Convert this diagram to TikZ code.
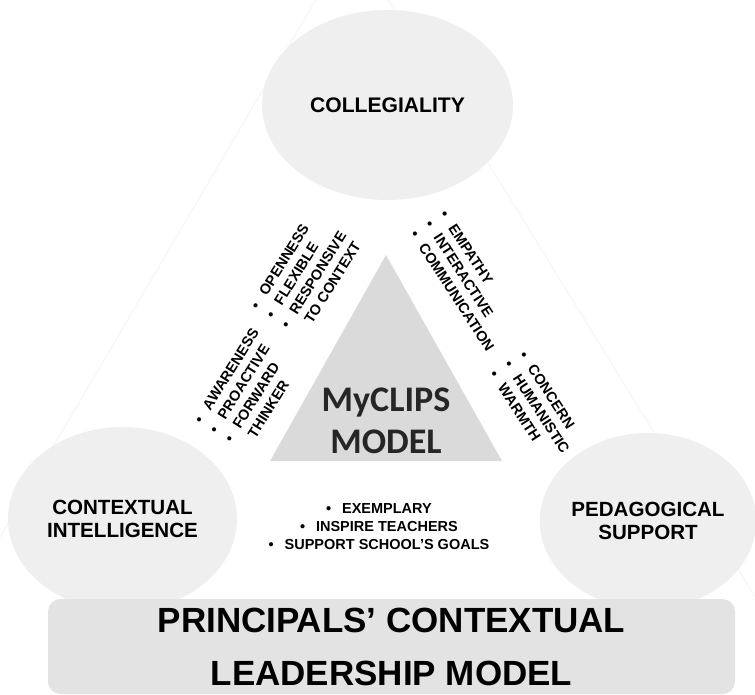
\documentclass[tikz,border=0pt]{standalone}
\usepackage{fontspec}
\setmainfont{Liberation Sans}
\newfontfamily\calibrifont{Carlito}
\usetikzlibrary{shapes.geometric}
\definecolor{ovalgray}{HTML}{EFEFEF}
\definecolor{coregray}{HTML}{DADADA}
\definecolor{bargray}{HTML}{E3E3E3}
\definecolor{edgegray}{HTML}{F7F7F7}
\newcommand{\bul}{\makebox[1.1em][l]{\textbullet}}
\newcommand{\nobul}{\hspace*{1.1em}}

\begin{document}
\begin{tikzpicture}
            \useasboundingbox (0,0) rectangle (15.1,13.88);
            \draw [edgegray, line width=0.8pt] (-0.74,1.88) -- (7.02,15.08) -- (15.14,1.88);

            \begin{scope}[every node/.style={ellipse,fill=ovalgray,inner sep=0pt,align=center,
                          font=\bfseries\fontsize{11.7}{13.1}\selectfont}]
                \node (C) [minimum width=5.02cm, minimum height=3.8cm, font=\bfseries\fontsize{12}{14}\selectfont] at (7.75, 11.78) {COLLEGIALITY};
                \node (CI) [minimum width=4.58cm, minimum height=3.68cm] at (2.45, 3.5) {CONTEXTUAL\\INTELLIGENCE};
                \node (PS) [minimum width=4.32cm, minimum height=3.52cm] at (12.96, 3.46) {PEDAGOGICAL\\SUPPORT};
            \end{scope}

            \fill [coregray] (5.4, 4.66) -- (7.72, 8.78) -- (10.04, 4.66) -- cycle;
            \node (M) [align=center, text=black!85, font=\calibrifont\bfseries\fontsize{20.5}{23.9}\selectfont] at (7.72, 5.46) {MyCLIPS\\MODEL};

            \node (P) [rectangle, rounded corners=0.25cm, fill=bargray, minimum width=13.74cm, minimum height=1.9cm,
                       align=center, font=\bfseries\fontsize{19.9}{30.2}\selectfont] at (7.83, 0.95) {PRINCIPALS’ CONTEXTUAL\\LEADERSHIP MODEL};

            \begin{scope}[every node/.style={align=left,inner sep=0pt,font=\bfseries\fontsize{8.25}{10.1}\selectfont}]
                \node (OP) [rotate=58] at (6.12, 8.38) {\bul OPENNESS\\\bul FLEXIBLE\\\bul RESPONSIVE\\\nobul TO CONTEXT};
                \node (AW) [rotate=58] at (4.98, 6.08) {\bul AWARENESS\\\bul PROACTIVE\\\bul FORWARD\\\nobul THINKER};
                \node (EM) [rotate=-57] at (9.34, 8.26) {\bul EMPATHY\\\bul INTERACTIVE\\\bul COMMUNICATION};
                \node (CO) [rotate=-57] at (10.74, 5.74) {\bul CONCERN\\\bul HUMANISTIC\\\bul WARMTH};
                \node (EX) [align=center, font=\bfseries\fontsize{8.25}{10.25}\selectfont] at (7.58, 3.34) {\bul EXEMPLARY\\\bul INSPIRE TEACHERS\\\bul SUPPORT SCHOOL’S GOALS};
            \end{scope}
        \end{tikzpicture}
\end{document}
